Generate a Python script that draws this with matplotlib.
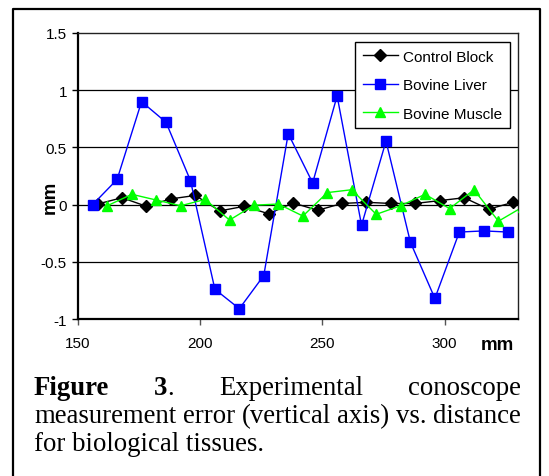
import matplotlib
matplotlib.use("Agg")
import matplotlib.pyplot as plt
from matplotlib.lines import Line2D

# ---------------- data ----------------
control_x = [158, 168, 178, 188, 198, 208, 218, 228, 238, 248, 258, 268, 278, 288, 298, 308, 318, 328]
control_y = [0.005, 0.06, -0.015, 0.05, 0.08, -0.055, -0.015, -0.08, 0.015, -0.05,
             0.01, 0.02, 0.01, 0.01, 0.035, 0.06, -0.04, 0.02]

liver_x = [156, 166, 176, 186, 196, 206, 216, 226, 236, 246, 256, 266, 276, 286, 296, 306, 316, 326]
liver_y = [0.0, 0.22, 0.90, 0.72, 0.21, -0.74, -0.91, -0.62, 0.62, 0.19,
           0.95, -0.18, 0.555, -0.33, -0.82, -0.24, -0.23, -0.24]

muscle_x = [162, 172, 182, 192, 202, 212, 222, 232, 242, 252, 262, 272, 282, 292, 302, 312, 322, 332]
muscle_y = [-0.01, 0.09, 0.04, -0.01, 0.045, -0.135, -0.005, 0.005, -0.1, 0.105,
            0.13, -0.085, -0.01, 0.09, -0.035, 0.13, -0.145, -0.02]

x_ticks = [150, 200, 250, 300]
y_ticks = [-1, -0.5, 0, 0.5, 1, 1.5]
y_tick_labels = ["-1", "-0.5", "0", "0.5", "1", "1.5"]
series_names = ["Control Block", "Bovine Liver", "Bovine Muscle"]
axis_unit = "mm"
caption_line1 = [("Figure", "bold"), ("3", "bold"), (".", "normal"),
                 ("Experimental", "normal"), ("conoscope", "normal")]
caption_line2 = "measurement error (vertical axis) vs. distance"
caption_line3 = "for biological tissues."

# ---------------- figure ----------------
W, H = 549, 477
fig = plt.figure(figsize=(W / 100, H / 100), dpi=100)
fig.patch.set_facecolor("white")

def fx(px):
    return px / W

def fy(py):
    return 1 - py / H

ax_l, ax_r, ax_t, ax_b = 78, 518, 34, 320
ax = fig.add_axes([fx(ax_l), fy(ax_b), (ax_r - ax_l) / W, (ax_b - ax_t) / H])

sans = ["Liberation Sans", "Arial", "DejaVu Sans"]

ax.plot(control_x, control_y, color="black", lw=1.0, marker="D", markersize=6,
        markerfacecolor="black", markeredgecolor="black", label=series_names[0], zorder=3)
ax.plot(liver_x, liver_y, color="#0000FF", lw=1.0, marker="s", markersize=7.5,
        markerfacecolor="#0000FF", markeredgecolor="#0000FF", label=series_names[1], zorder=3)
ax.plot(muscle_x, muscle_y, color="#00FF00", lw=1.0, marker="^", markersize=7.5,
        markerfacecolor="#00FF00", markeredgecolor="#00FF00", label=series_names[2], zorder=3)

ax.set_xlim(150, 330)
ax.set_ylim(-1, 1.5)
ax.set_xticks(x_ticks)
ax.set_xticklabels([str(v) for v in x_ticks], fontfamily=sans, fontsize=11)
ax.set_yticks(y_ticks)
ax.set_yticklabels(y_tick_labels, fontfamily=sans, fontsize=11)
ax.tick_params(axis="y", direction="out", length=4, width=1, pad=4)
ax.tick_params(axis="x", direction="out", length=4, width=1, color="#555555", pad=8)

for yv in [-0.5, 0, 0.5, 1]:
    ax.axhline(yv, color="black", lw=0.9, zorder=1)

for s in ["left", "bottom"]:
    ax.spines[s].set_linewidth(1.6)
    ax.spines[s].set_color("black")
for s in ["top", "right"]:
    ax.spines[s].set_linewidth(1.0)
    ax.spines[s].set_color("#222222")

ax.set_xlabel(axis_unit, fontfamily=sans, fontsize=13.5, fontweight="bold")
ax.xaxis.set_label_coords((497 - ax_l) / (ax_r - ax_l), (ax_b - 346) / (ax_b - ax_t))
ax.xaxis.label.set_va("center")
ax.set_ylabel(axis_unit, fontfamily=sans, fontsize=13.5, fontweight="bold")
ax.yaxis.set_label_coords((50 - ax_l) / (ax_r - ax_l), (ax_b - 197) / (ax_b - ax_t))
ax.yaxis.label.set_va("center")

leg = ax.legend(loc="upper right",
                bbox_to_anchor=((510 - ax_l) / (ax_r - ax_l), (ax_b - 43) / (ax_b - ax_t)),
                borderaxespad=0, fancybox=False, shadow=False, framealpha=1,
                edgecolor="black", prop={"family": sans, "size": 11},
                handlelength=2.3, handletextpad=0.35, labelspacing=0.95,
                borderpad=0.5, markerscale=1.0)
leg.get_frame().set_linewidth(1.0)

# outer border (open at bottom)
fig.add_artist(Line2D([fx(13), fx(13), fx(540), fx(540)],
                      [0, fy(10), fy(10), 0],
                      transform=fig.transFigure, color="black", lw=1.6))

# ---------------- caption ----------------
serif = ["Liberation Serif", "Times New Roman", "DejaVu Serif"]
cap_size = 19.3
left_px, right_px = 34, 521
base1, base2, base3 = 395, 423, 451

renderer = fig.canvas.get_renderer()

def make(txt, weight, x, y):
    return fig.text(fx(x), fy(y), txt, fontfamily=serif, fontsize=cap_size,
                    fontweight=weight, ha="left", va="baseline")

def width_px(t):
    return t.get_window_extent(renderer).width

# line 1: tokens "Figure", "3.", "Experimental", "conoscope"
t_fig = make(caption_line1[0][0], caption_line1[0][1], left_px, base1)
t_3 = make(caption_line1[1][0], caption_line1[1][1], 0, base1)
t_dot = make(caption_line1[2][0], caption_line1[2][1], 0, base1)
t_exp = make(caption_line1[3][0], caption_line1[3][1], 0, base1)
t_con = make(caption_line1[4][0], caption_line1[4][1], 0, base1)
w_fig, w_3, w_dot, w_exp, w_con = [width_px(t) for t in (t_fig, t_3, t_dot, t_exp, t_con)]
total = w_fig + w_3 + w_dot + w_exp + w_con
gap = (right_px - left_px - total) / 3
x = left_px + w_fig + gap
t_3.set_x(fx(x)); x += w_3
t_dot.set_x(fx(x)); x += w_dot + gap
t_exp.set_x(fx(x)); x += w_exp + gap
t_con.set_x(fx(right_px - w_con))

# line 2: justified
words = caption_line2.split(" ")
objs = [make(w, "normal", 0, base2) for w in words]
ws = [width_px(t) for t in objs]
gap2 = (right_px - left_px - sum(ws)) / (len(words) - 1)
x = left_px
for t, w in zip(objs, ws):
    t.set_x(fx(x))
    x += w + gap2

# line 3: left aligned
make(caption_line3, "normal", left_px, base3)

fig.savefig("out.png", dpi=100, facecolor="white")
